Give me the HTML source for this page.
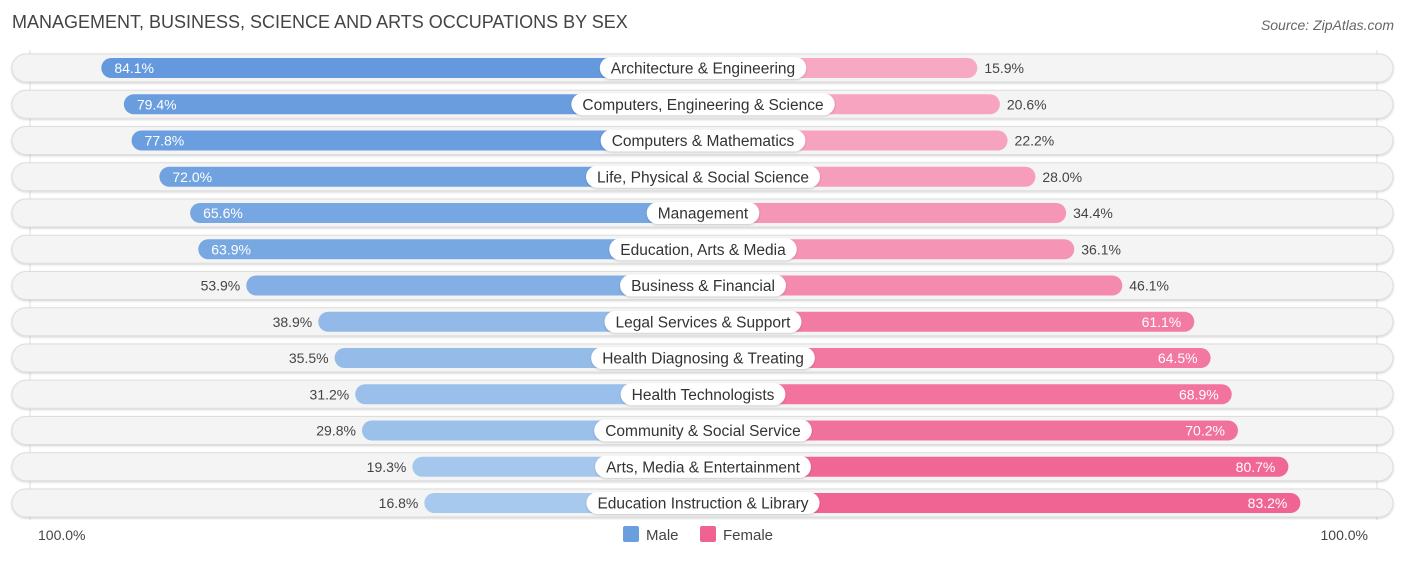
<!DOCTYPE html>
<html><head><meta charset="utf-8"><style>
body{margin:0;background:#fff;font-family:"Liberation Sans",sans-serif;}
svg text{font-family:"Liberation Sans",sans-serif;}
</style></head><body>
<svg width="1406" height="559" xmlns="http://www.w3.org/2000/svg" id="chart">
<defs><filter id="sh" x="-5%" y="-30%" width="110%" height="160%"><feDropShadow dx="0" dy="1" stdDeviation="1" flood-color="#000" flood-opacity="0.18"/></filter></defs>
<text x="12" y="28" font-size="18" fill="#444">MANAGEMENT, BUSINESS, SCIENCE AND ARTS OCCUPATIONS BY SEX</text>
<text x="1394" y="30" font-size="14" fill="#666" font-style="italic" text-anchor="end">Source: ZipAtlas.com</text>
<line x1="30" y1="50" x2="30" y2="520" stroke="#ddd"/>
<line x1="1377" y1="50" x2="1377" y2="520" stroke="#ddd"/>
<g id="rows"></g>
<text x="38" y="540" font-size="14" fill="#444">100.0%</text>
<text x="1368" y="540" font-size="14" fill="#444" text-anchor="end">100.0%</text>
<rect x="623" y="526" width="16" height="16" rx="2" fill="#6a9fde"/>
<text x="646" y="540" font-size="15" fill="#444">Male</text>
<rect x="700" y="526" width="16" height="16" rx="2" fill="#f06292"/>
<text x="723" y="540" font-size="15" fill="#444">Female</text>
</svg>
<script>
const categories=["Architecture & Engineering","Computers, Engineering & Science","Computers & Mathematics","Life, Physical & Social Science","Management","Education, Arts & Media","Business & Financial","Legal Services & Support","Health Diagnosing & Treating","Health Technologists","Community & Social Service","Arts, Media & Entertainment","Education Instruction & Library"];
const maleValues=[84.1,79.4,77.8,72.0,65.6,63.9,53.9,38.9,35.5,31.2,29.8,19.3,16.8];
const femaleValues=[15.9,20.6,22.2,28.0,34.4,36.1,46.1,61.1,64.5,68.9,70.2,80.7,83.2];
const CX=703,BASE=198,SCALE=4.8,Y0=68,STEP=36.25,BH=20;
const xScale=v=>BASE+v*SCALE;
const yScale=i=>Y0+i*STEP;
const NS="http://www.w3.org/2000/svg";
const g=document.getElementById('rows');
function mk(t,a){const e=document.createElementNS(NS,t);for(const k in a)e.setAttribute(k,a[k]);return e;}
function mix(c1,c2,t){return 'rgb('+c1.map((v,i)=>Math.round(v+(c2[i]-v)*t)).join(',')+')';}
categories.forEach((c,i)=>{
 const y=yScale(i);
 const bg=mk('rect',{x:12,y:y-14,width:1381,height:28,rx:14,fill:'#f4f4f4',stroke:'#ddd',filter:'url(#sh)'});
 
 
 g.appendChild(bg);
 const m=maleValues[i],f=femaleValues[i];
 const mw=xScale(m),fw=xScale(f);
 const tm=Math.min(1,Math.max(0,(m-15)/70));
 const mb=mk('rect',{x:CX-mw,y:y-BH/2,width:mw,height:BH,rx:10,fill:mix([170,202,238],[99,153,221],tm)});
 
 
 g.appendChild(mb);
 const tf=Math.min(1,Math.max(0,(f-15)/70));
 const fb=mk('rect',{x:CX,y:y-BH/2,width:fw,height:BH,rx:10,fill:mix([247,170,196],[240,98,146],tf)});
 
 
 g.appendChild(fb);
 const mIn=m>60;
 const ml=mk('text',{x:mIn?CX-mw+13:CX-mw-6,y:y+5,'font-size':14,fill:mIn?'#fff':'#444','text-anchor':mIn?'start':'end'});
 ml.textContent=m.toFixed(1)+'%';
 
 
 g.appendChild(ml);
 const fIn=f>60;
 const fl=mk('text',{x:fIn?CX+fw-13:CX+fw+7,y:y+5,'font-size':14,fill:fIn?'#fff':'#444','text-anchor':fIn?'end':'start'});
 fl.textContent=f.toFixed(1)+'%';
 
 
 g.appendChild(fl);
 const t=mk('text',{x:CX,y:y+5.5,'font-size':15.5,fill:'#333','text-anchor':'middle'});
 t.textContent=c;
 g.appendChild(t);
 const w=t.getComputedTextLength()+22;
 const pill=mk('rect',{x:CX-w/2,y:y-11,width:w,height:22,rx:11,fill:'#fff',filter:'url(#sh)'});
 
 
 g.insertBefore(pill,t);
 
 
});
</script>
</body></html>
